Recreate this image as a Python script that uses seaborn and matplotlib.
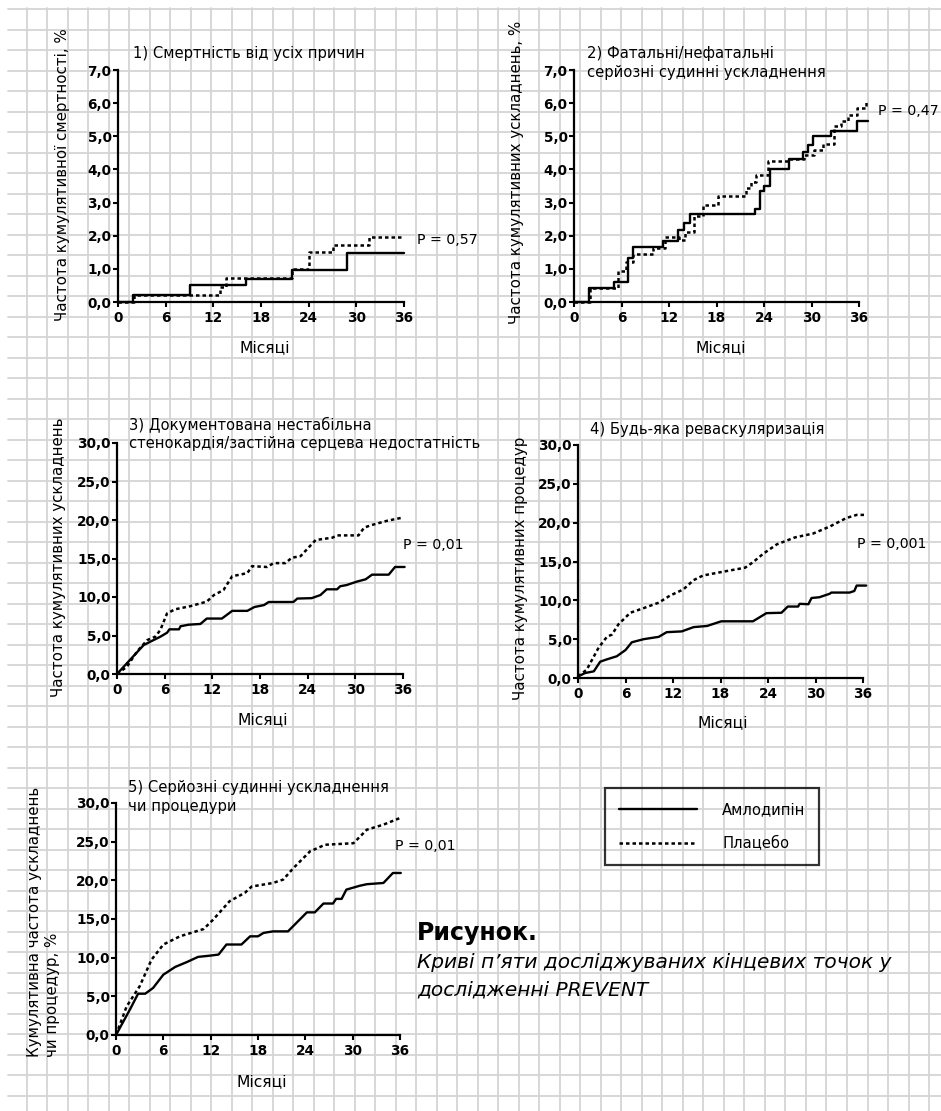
import matplotlib
matplotlib.use("Agg")
import matplotlib.pyplot as plt
import seaborn as sns

W, H = 941, 1111

# ---- data ----
month_ticks = [0, 6, 12, 18, 24, 30, 36]
month_labels = ["0", "6", "12", "18", "24", "30", "36"]
y7_ticks = [0, 1, 2, 3, 4, 5, 6, 7]
y7_labels = ["0,0", "1,0", "2,0", "3,0", "4,0", "5,0", "6,0", "7,0"]
y30_ticks = [0, 5, 10, 15, 20, 25, 30]
y30_labels = ["0,0", "5,0", "10,0", "15,0", "20,0", "25,0", "30,0"]

series_names = ["Амлодипін", "Плацебо"]

# 1) all-cause mortality (step curves)
p1_aml_x = [0, 1.9, 9.1, 16.1, 21.9, 28.8, 36]
p1_aml_y = [0, 0.2, 0.5, 0.69, 0.97, 1.48, 1.48]
p1_pla_x = [0, 2.0, 12.9, 13.6, 21.9, 24.0, 27.1, 31.6, 36]
p1_pla_y = [0, 0.2, 0.45, 0.72, 1.0, 1.52, 1.72, 1.95, 1.95]

# 2) fatal/non-fatal serious vascular events (step curves)
p2_aml_x = [0, 1.9, 5.1, 6.8, 7.45, 11.2, 13.1, 13.85, 14.6, 22.8, 23.45, 24.0,
            24.7, 27.2, 28.9, 29.6, 30.2, 32.5, 35.7, 37.1]
p2_aml_y = [0, 0.43, 0.6, 1.32, 1.65, 1.85, 2.17, 2.37, 2.65, 2.82, 3.35, 3.5,
            4.0, 4.32, 4.52, 4.75, 5.0, 5.17, 5.47, 5.47]
p2_pla_x = [0, 2.0, 5.6, 6.6, 7.5, 10.0, 11.5, 13.3, 14.0, 15.1, 16.3, 18.2, 21.7,
            22.3, 23.0, 24.5, 27.0, 29.0, 30.3, 31.5, 32.8, 33.7, 34.6, 35.8, 36.9]
p2_pla_y = [0, 0.42, 0.95, 1.2, 1.45, 1.62, 1.97, 1.88, 2.1, 2.58, 2.93, 3.2, 3.45,
            3.62, 3.82, 4.26, 4.3, 4.45, 4.6, 4.78, 5.31, 5.45, 5.65, 5.85, 6.08]

# 3) unstable angina / congestive heart failure
p3_aml_x = [0, 3.36, 4.2, 5.45, 6.3, 6.6, 7.8, 8.0, 9.0, 10.5, 11.3, 13.2, 14.5,
            16.4, 17.3, 18.5, 19.1, 22.2, 22.7, 24.5, 25.6, 26.4, 27.7, 28.1, 28.9,
            30.2, 31.3, 32.1, 34.2, 35.0, 36.2]
p3_aml_y = [0, 3.76, 4.2, 4.84, 5.36, 5.8, 5.8, 6.2, 6.4, 6.5, 7.2, 7.2, 8.2,
            8.2, 8.7, 8.95, 9.35, 9.35, 9.8, 9.85, 10.25, 11.0, 11.0, 11.4, 11.55,
            12.0, 12.3, 12.9, 12.9, 13.9, 13.9]
p3_pla_x = [0, 1.26, 2.5, 3.8, 4.8, 5.45, 6.3, 7.3, 9.2, 11.3, 12.2, 13.4, 14.5,
            16.4, 17.0, 18.9, 19.7, 21.2, 22.0, 23.1, 25.0, 27.1, 27.7, 30.4, 31.1,
            31.9, 34.0, 35.9]
p3_pla_y = [0, 0.95, 2.9, 4.4, 4.84, 5.7, 7.87, 8.4, 8.8, 9.4, 10.25, 10.9, 12.7,
            13.1, 14.0, 13.9, 14.4, 14.4, 15.1, 15.3, 17.4, 17.7, 18.0, 18.0, 19.0,
            19.3, 19.9, 20.3]

# 4) any revascularisation
p4_aml_x = [0, 0.9, 2.0, 2.8, 3.65, 4.9, 6.0, 6.8, 8.3, 10.2, 11.2, 13.1, 14.6,
            16.3, 18.1, 22.1, 23.8, 25.7, 26.5, 27.8, 28.0, 29.1, 29.5, 30.5, 31.8,
            32.0, 34.3, 34.9, 35.2, 36.4]
p4_aml_y = [0.2, 0.64, 0.86, 2.1, 2.4, 2.8, 3.6, 4.6, 5.0, 5.3, 5.9, 6.0, 6.55,
            6.7, 7.3, 7.3, 8.35, 8.4, 9.2, 9.2, 9.55, 9.5, 10.3, 10.4, 10.85,
            11.0, 11.0, 11.2, 11.9, 11.9]
p4_pla_x = [0, 1.1, 2.6, 3.65, 4.3, 5.1, 6.6, 8.3, 10.2, 11.6, 13.3, 14.6, 15.8,
            18.4, 21.1, 22.1, 23.4, 25.1, 27.4, 29.7, 31.8, 33.9, 35.2, 36.2]
p4_pla_y = [0.2, 1.07, 3.9, 5.3, 5.6, 6.9, 8.4, 9.0, 9.7, 10.6, 11.4, 12.6, 13.2,
            13.7, 14.2, 14.9, 16.0, 17.2, 18.1, 18.6, 19.5, 20.6, 21.0, 21.0]

# 5) serious vascular events or procedures
p5_aml_x = [0, 1.8, 2.8, 3.7, 4.7, 6.0, 7.5, 9.0, 10.4, 11.9, 13.0, 14.0, 15.9,
            17.0, 18.0, 18.7, 19.9, 21.8, 24.2, 25.2, 26.3, 27.5, 27.9, 28.6, 29.2,
            30.9, 31.8, 33.9, 35.1, 36.1]
p5_aml_y = [0, 3.36, 5.34, 5.34, 6.08, 7.8, 8.8, 9.44, 10.1, 10.26, 10.4, 11.7,
            11.7, 12.76, 12.76, 13.2, 13.4, 13.4, 15.86, 15.86, 17.0, 17.0, 17.6,
            17.6, 18.8, 19.3, 19.5, 19.66, 20.95, 20.95]
p5_pla_x = [0, 1.35, 3.0, 4.5, 6.0, 8.1, 11.1, 12.3, 14.4, 16.35, 17.2, 19.9, 21.2,
            22.5, 24.6, 26.5, 30.1, 31.8, 33.9, 36.0]
p5_pla_y = [0, 3.7, 6.3, 9.74, 11.7, 12.76, 13.7, 14.9, 17.3, 18.4, 19.2, 19.66,
            20.1, 21.6, 23.75, 24.6, 24.8, 26.55, 27.2, 28.06]

titles = ["1) Смертність від усіх причин",
          "2) Фатальні/нефатальні\nсерйозні судинні ускладнення",
          "3) Документована нестабільна\nстенокардія/застійна серцева недостатність",
          "4) Будь-яка реваскуляризація",
          "5) Серйозні судинні ускладнення\nчи процедури"]
ylabels = ["Частота кумулятивної смертності, %",
           "Частота кумулятивних ускладнень, %",
           "Частота кумулятивних ускладнень",
           "Частота кумулятивних процедур",
           "Кумулятивна частота ускладнень",
           "чи процедур, %"]
p_values = ["P = 0,57", "P = 0,47", "P = 0,01", "P = 0,001", "P = 0,01"]
xlabel = "Місяці"

# ---- style ----
sns.set_style("ticks")
plt.rcParams["font.family"] = ["DejaVu Sans"]
plt.rcParams["axes.linewidth"] = 1.6
plt.rcParams["text.color"] = "black"
plt.rcParams["axes.labelcolor"] = "black"
plt.rcParams["xtick.color"] = "black"
plt.rcParams["ytick.color"] = "black"
plt.rcParams["axes.edgecolor"] = "black"

fig = plt.figure(figsize=(W / 100, H / 100), dpi=100)
fig.patch.set_facecolor("white")

# graph-paper background
bg = fig.add_axes([0, 0, 1, 1])
bg.set_xlim(0, W)
bg.set_ylim(H, 0)
bg.axis("off")
for k in range(45):
    x = 26.6 + 20.51 * k
    bg.plot([x, x], [8, H], color="#d4d4d4", lw=1.3)
for k in range(54):
    y = 9.3 + 20.5 * k
    bg.plot([8, W], [y, y], color="#d4d4d4", lw=1.3)


def ftext(x, y, s, **kw):
    return fig.text(x / W, 1 - y / H, s, color="black", **kw)


def panel(left, top, right, bottom, ymax, yt, ytl):
    ax = fig.add_axes([left / W, 1 - bottom / H, (right - left) / W, (bottom - top) / H])
    ax.set_facecolor("none")
    ax.set_xlim(0, 36)
    ax.set_ylim(0, ymax)
    ax.set_xticks(month_ticks)
    ax.set_xticklabels(month_labels, fontweight="bold")
    ax.set_yticks(yt)
    ax.set_yticklabels(ytl, fontweight="bold")
    ax.tick_params(direction="out", length=3.6, width=1.5, labelsize=9.8,
                   color="black", labelcolor="black")
    ax.tick_params(axis="x", pad=3)
    ax.tick_params(axis="y", pad=1)
    for s in ["top", "right"]:
        ax.spines[s].set_visible(False)
    for s in ["left", "bottom"]:
        ax.spines[s].set_linewidth(1.6)
        ax.spines[s].set_color("black")
        ax.spines[s].set_zorder(1)
    return ax


solid_kw = dict(color="black", linewidth=1.7, estimator=None, sort=False, legend=False, clip_on=False)
dot_kw = dict(color="black", linewidth=1.8, estimator=None, sort=False, legend=False, clip_on=False,
              linestyle=(0, (1.4, 1.2)))

ax1 = panel(118, 70, 404, 302, 7, y7_ticks, y7_labels)
sns.lineplot(x=p1_aml_x, y=p1_aml_y, ax=ax1, drawstyle="steps-post", **solid_kw)
sns.lineplot(x=p1_pla_x, y=p1_pla_y, ax=ax1, drawstyle="steps-post", **dot_kw)

ax2 = panel(574, 70, 859, 302, 7, y7_ticks, y7_labels)
sns.lineplot(x=p2_aml_x, y=p2_aml_y, ax=ax2, drawstyle="steps-post", **solid_kw)
sns.lineplot(x=p2_pla_x, y=p2_pla_y, ax=ax2, drawstyle="steps-post", **dot_kw)

ax3 = panel(117, 443, 403, 674, 30, y30_ticks, y30_labels)
sns.lineplot(x=p3_aml_x, y=p3_aml_y, ax=ax3, **solid_kw)
sns.lineplot(x=p3_pla_x, y=p3_pla_y, ax=ax3, **dot_kw)

ax4 = panel(578, 445, 863, 678, 30, y30_ticks, y30_labels)
sns.lineplot(x=p4_aml_x, y=p4_aml_y, ax=ax4, **solid_kw)
sns.lineplot(x=p4_pla_x, y=p4_pla_y, ax=ax4, **dot_kw)

ax5 = panel(116, 803, 400, 1035, 30, y30_ticks, y30_labels)
sns.lineplot(x=p5_aml_x, y=p5_aml_y, ax=ax5, **solid_kw)
sns.lineplot(x=p5_pla_x, y=p5_pla_y, ax=ax5, **dot_kw)

for ax in [ax1, ax2, ax3, ax4, ax5]:
    ax.set_xlabel("")
    ax.set_ylabel("")

# titles
tk = dict(fontsize=10.6, ha="left", va="center", linespacing=1.3)
ftext(133, 53, titles[0], **tk)
ftext(587, 63, titles[1], **tk)
ftext(129, 434, titles[2], **tk)
ftext(590, 429, titles[3], **tk)
ftext(128, 797, titles[4], **tk)

# y labels
yk = dict(fontsize=10.8, rotation=90, ha="center", va="center")
ftext(62, 175, ylabels[0], **yk)
ftext(517, 172, ylabels[1], **yk)
ftext(58, 557, ylabels[2], **yk)
ftext(520, 568, ylabels[3], **yk)
ftext(35, 1057, ylabels[4], fontsize=10.8, rotation=90, ha="center", va="bottom")
ftext(52, 1057, ylabels[5], fontsize=10.8, rotation=90, ha="center", va="bottom")

# x labels
xk = dict(fontsize=11.2, ha="center", va="center")
ftext(265, 348, xlabel, **xk)
ftext(721, 348, xlabel, **xk)
ftext(263, 720, xlabel, **xk)
ftext(723, 723, xlabel, **xk)
ftext(262, 1082, xlabel, **xk)

# p-values
pk = dict(fontsize=10.2, ha="left", va="center")
ftext(417, 240, p_values[0], **pk)
ftext(878, 111, p_values[1], **pk)
ftext(403, 545, p_values[2], **pk)
ftext(857, 544, p_values[3], **pk)
ftext(395, 846, p_values[4], **pk)

# legend
handles = ax5.get_lines()[:2]
leg = fig.legend(handles, series_names, loc="upper left",
                 bbox_to_anchor=(605 / W, 1 - 788 / H), borderaxespad=0,
                 frameon=True, fancybox=False, edgecolor="black", facecolor="none",
                 fontsize=10.6, handlelength=5.3, handletextpad=1.7,
                 borderpad=0.95, labelspacing=1.3, labelcolor="black")
leg.get_frame().set_linewidth(1.6)

# caption
ftext(417, 933, "Рисунок.", fontsize=17, fontweight="bold", ha="left", va="center")
ftext(417, 962, "Криві п’яти досліджуваних кінцевих точок у", fontsize=14.5,
      style="italic", ha="left", va="center")
ftext(417, 990, "дослідженні PREVENT", fontsize=14.5, style="italic", ha="left", va="center")

fig.savefig("out.png", dpi=100)
